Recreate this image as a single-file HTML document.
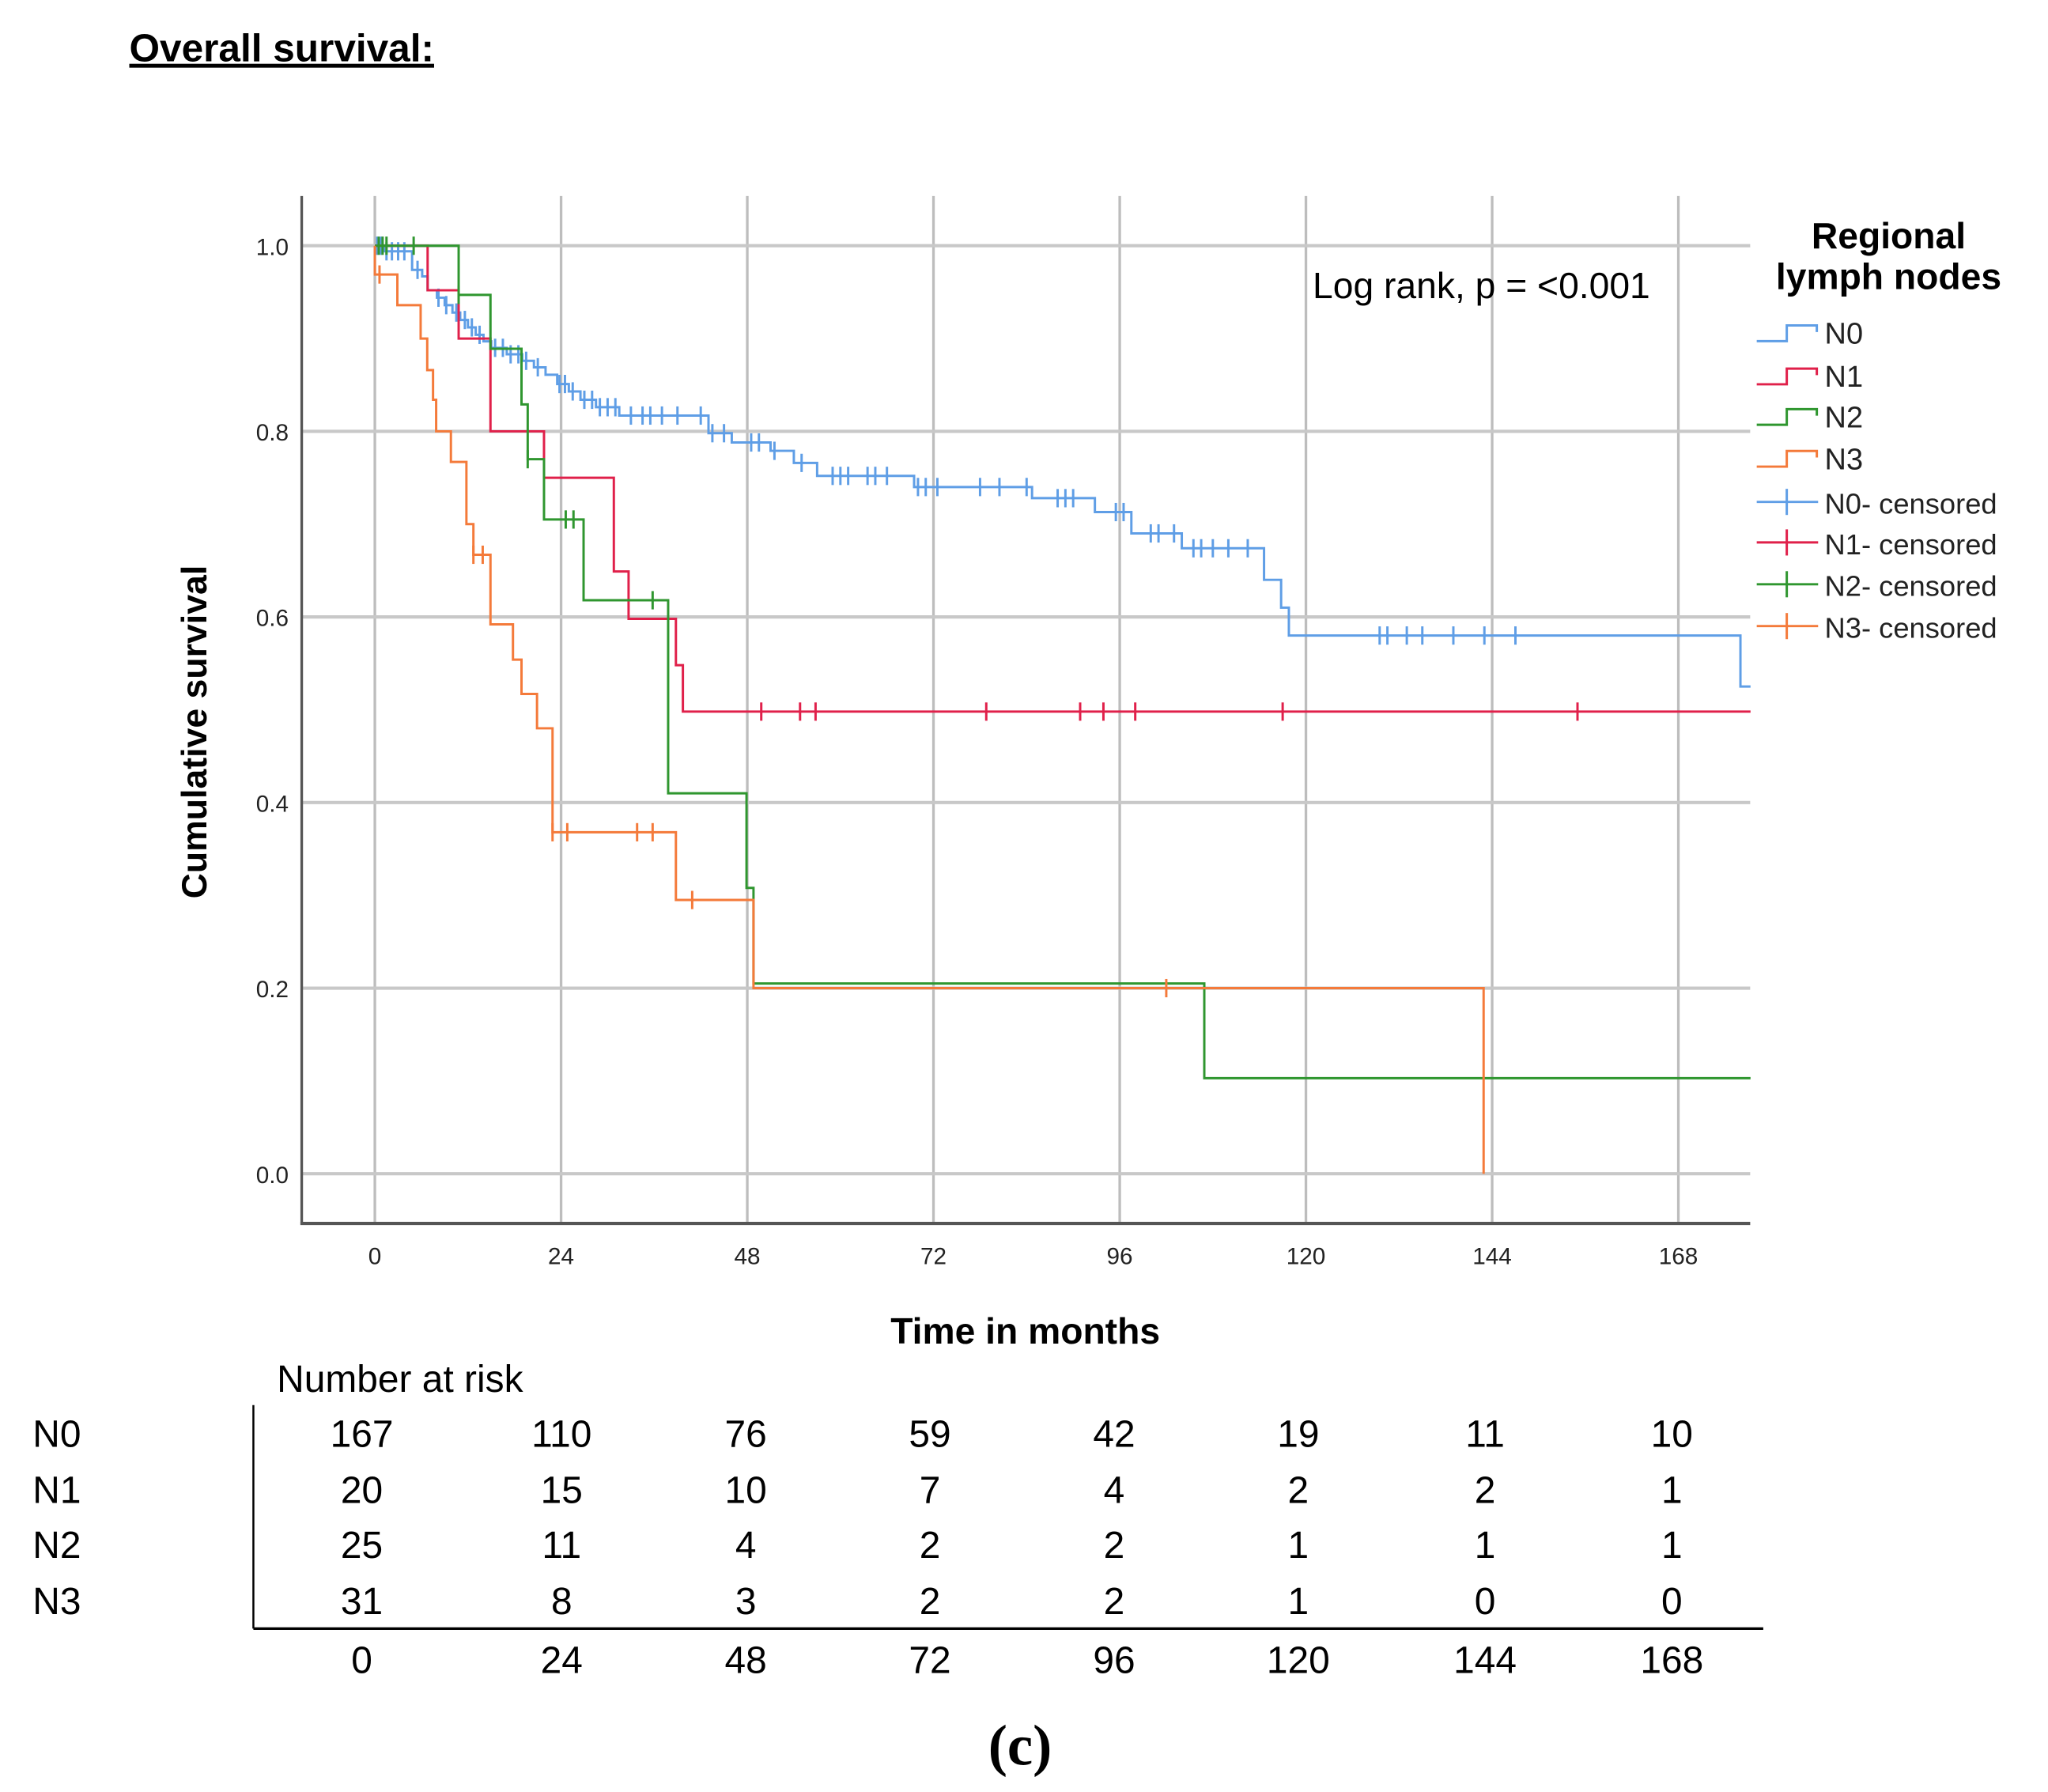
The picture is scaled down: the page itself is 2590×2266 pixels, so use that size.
<!DOCTYPE html>
<html><head><meta charset="utf-8"><style>
html,body{margin:0;padding:0;background:#fff;}
svg{display:block;}
text{font-family:"Liberation Sans",sans-serif;}
</style></head><body>
<svg id="chart" width="2590" height="2266" viewBox="0 0 1568 1371" preserveAspectRatio="none" xmlns="http://www.w3.org/2000/svg">
<rect width="1568" height="1371" fill="#fff"/>
<text x="99" y="47" font-size="30" font-weight="bold" text-decoration="underline">Overall survival:</text>
<g id="grid"></g>
<g id="axes"></g>
<g id="curves"></g>
<text transform="translate(158,560) rotate(-90)" text-anchor="middle" font-size="27" font-weight="bold">Cumulative survival</text>
<text x="785" y="1028" text-anchor="middle" font-size="28" font-weight="bold">Time in months</text>
<text x="1005" y="228" font-size="28">Log rank, p = &lt;0.001</text>
<g id="legend">
<text x="1446" y="190" text-anchor="middle" font-size="28" font-weight="bold">Regional</text>
<text x="1446" y="221" text-anchor="middle" font-size="28" font-weight="bold">lymph nodes</text>
</g>
<g id="risk">
<text x="212" y="1065" font-size="29">Number at risk</text>
<line x1="194" y1="1075" x2="194" y2="1246" stroke="#000" stroke-width="1.5"/>
<line x1="194" y1="1246" x2="1350" y2="1246" stroke="#000" stroke-width="2"/>
</g>
<text x="781" y="1350" text-anchor="middle" font-size="44" font-weight="bold" style="font-family:'Liberation Serif',serif">(c)</text>
</svg>
<script>
const xTicks=[0,24,48,72,96,120,144,168];
const yTicks=[0,0.2,0.4,0.6,0.8,1.0];
const groups=["N0","N1","N2","N3"];
const colors=["#5f9ee6","#e0204a","#2f962f","#f47a3a"];
const n0Steps=[[0,1.0],[1.2,0.994],[4.8,0.974],[6.1,0.967],[6.8,0.952],[8,0.944],[9,0.936],[10,0.928],[11,0.92],[12,0.912],[13,0.904],[14,0.897],[15,0.89],[17,0.883],[19,0.876],[20.5,0.869],[22,0.861],[23.5,0.851],[25,0.843],[26.5,0.834],[28.5,0.826],[31.5,0.817],[43,0.798],[46,0.788],[51,0.779],[54,0.766],[57,0.752],[69.5,0.74],[84.7,0.728],[92.8,0.713],[97.5,0.69],[104,0.674],[114.6,0.64],[116.8,0.61],[117.8,0.58],[176,0.525]];
const n1Steps=[[0,1.0],[6.8,0.952],[10.8,0.90],[14.9,0.80],[21.8,0.75],[30.8,0.649],[32.7,0.598],[38.8,0.548],[39.7,0.498]];
const n2Steps=[[0,1.0],[10.8,0.947],[14.9,0.889],[18.9,0.829],[19.7,0.77],[21.8,0.705],[26.9,0.618],[37.8,0.41],[47.9,0.308],[48.8,0.205],[106.9,0.103]];
const n3Steps=[[0,0.969],[2.9,0.936],[5.9,0.90],[6.75,0.866],[7.5,0.834],[7.9,0.80],[9.8,0.767],[11.8,0.70],[12.7,0.667],[14.9,0.592],[17.8,0.554],[18.9,0.517],[20.9,0.48],[22.9,0.368],[38.8,0.295],[48.8,0.20],[142.9,0.0]];
const n0Censored=[0.3,0.8,1.5,2.2,3,3.8,5.5,8.2,9.2,10.5,11.6,12.5,13.5,15.5,16.5,17.5,18.5,19.5,21,23.8,24.5,25.5,27,28,29,30,31,33,34.5,35.5,37,39,42,43.5,45,48.5,49.5,51.5,55,59,60,61,63.5,64.5,66,70,71,72.5,78,80.5,84,88,89,90,95.5,96.5,100,101,103,105.5,106.5,108,110,112.5,129.5,130.5,133,135,139,143,147];
const n1Censored=[49.8,54.8,56.8,78.8,90.9,93.9,98,117,155];
const n2Censored=[0.5,1,1.5,5,10.8,19.7,24.6,25.6,35.8];
const n3Censored=[0.6,12.7,13.9,22.9,24.8,33.8,35.8,40.9,102];
const endMonth=177.3;
const riskN0=[167,110,76,59,42,19,11,10];
const riskN1=[20,15,10,7,4,2,2,1];
const riskN2=[25,11,4,2,2,1,1,1];
const riskN3=[31,8,3,2,2,1,0,0];
const legendLabels=["N0","N1","N2","N3","N0- censored","N1- censored","N2- censored","N3- censored"];

const NS="http://www.w3.org/2000/svg";
const X=m=>287+m*(1285-287)/168;
const Y=s=>898-s*710;
function mk(tag,attrs,parent){const e=document.createElementNS(NS,tag);for(const k in attrs)e.setAttribute(k,attrs[k]);parent.appendChild(e);return e;}
const grid=document.getElementById('grid'),axes=document.getElementById('axes'),curves=document.getElementById('curves'),legend=document.getElementById('legend'),risk=document.getElementById('risk');
xTicks.forEach(t=>{
  const l=mk('line',{x1:X(t),x2:X(t),y1:150,y2:936,stroke:'#bdbdbd','stroke-width':2},grid);
  
  
  const tx=mk('text',{x:X(t),y:967,'text-anchor':'middle','font-size':18,fill:'#222'},axes);tx.textContent=t;
  
  
});
yTicks.forEach(t=>{
  const l=mk('line',{x1:231,x2:1340,y1:Y(t),y2:Y(t),stroke:'#c8c8c8','stroke-width':2.5},grid);
  
  
  const tx=mk('text',{x:221,y:Y(t)+7,'text-anchor':'end','font-size':18,fill:'#222'},axes);tx.textContent=t.toFixed(1);
  
  
});
const ya=mk('line',{x1:231,x2:231,y1:150,y2:937,stroke:'#555','stroke-width':2},axes);


const xa=mk('line',{x1:230,x2:1340,y1:936,y2:936,stroke:'#555','stroke-width':2.5},axes);



const allSteps=[n0Steps,n1Steps,n2Steps,n3Steps];
const allCens=[n0Censored,n1Censored,n2Censored,n3Censored];
function survAt(steps,m){let s=steps[0][1];for(const p of steps){if(p[0]<=m)s=p[1];}return s;}
allSteps.forEach((steps,i)=>{
  let d='M'+X(0)+','+Y(1.0);
  steps.forEach(p=>{d+=' H'+X(p[0])+' V'+Y(p[1]);});
  let end=endMonth; if(i===3) end=142.9;
  d+=' H'+X(end);
  const p=mk('path',{d:d,fill:'none',stroke:colors[i],'stroke-width':1.8},curves);
  
  
  allCens[i].forEach(m=>{
    const s=survAt(steps,m);
    const c=mk('line',{x1:X(m),x2:X(m),y1:Y(s)-7,y2:Y(s)+7,stroke:colors[i],'stroke-width':1.8},curves);
    
    
  });
});
const legYs=[257,290,321,353,387,418,450,482];
legendLabels.forEach((lab,k)=>{
  const i=k%4,y=legYs[k];
  const g=mk('g',{},legend);
  
  
  if(k<4){mk('path',{d:`M1345,${y+4} H1368 V${y-8} H1391 V${y-3}`,fill:'none',stroke:colors[i],'stroke-width':1.8},g);}
  else{mk('line',{x1:1345,x2:1392,y1:y-3,y2:y-3,stroke:colors[i],'stroke-width':1.8},g);mk('line',{x1:1368,x2:1368,y1:y-13,y2:y+7,stroke:colors[i],'stroke-width':1.8},g);}
  const t=mk('text',{x:1397,y:y+6,'font-size':k<4?23:22,fill:'#222'},g);t.textContent=lab;
});
const riskRows=[riskN0,riskN1,riskN2,riskN3];const rowYs=[1107,1150,1192,1235];
const colXs=[277,430,571,712,853,994,1137,1280];
riskRows.forEach((row,r)=>{
  const lt=mk('text',{x:25,y:rowYs[r],'font-size':29},risk);lt.textContent=groups[r];
  
  
  row.forEach((v,c)=>{const t=mk('text',{x:colXs[c],y:rowYs[r],'text-anchor':'middle','font-size':29},risk);t.textContent=v;
    
    });
});
xTicks.forEach((t,c)=>{const tx=mk('text',{x:colXs[c],y:1280,'text-anchor':'middle','font-size':29},risk);tx.textContent=t;
  
  });
</script>
</body></html>
